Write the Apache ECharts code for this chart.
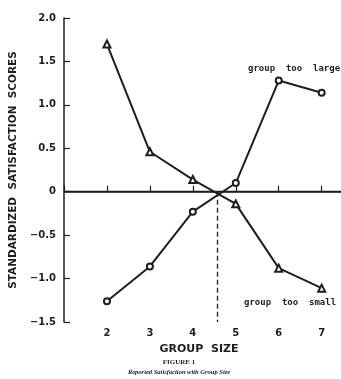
<!DOCTYPE html>
<html><head><meta charset="utf-8">
<script src="https://cdn.jsdelivr.net/npm/echarts@6/dist/echarts.min.js"></script>
<style>html,body{margin:0;padding:0;background:#fff}#c{width:341px;height:379px}</style>
</head><body><div id="c"></div>
<script>
const groupSizes = [2, 3, 4, 5, 6, 7];
const tooSmall = [1.70, 0.46, 0.14, -0.14, -0.88, -1.11];
const tooLarge = [-1.26, -0.86, -0.23, 0.10, 1.28, 1.14];
const crossX = 4.57;
const yTicks = [-1.5, -1.0, -0.5, 0, 0.5, 1.0, 1.5, 2.0];
const xTickLabels = ['2', '3', '4', '5', '6', '7'];

const ink = '#1e1e1e';
const chart = echarts.init(document.getElementById('c'), null, {renderer: 'canvas'});
const toPairs = (xs, ys) => xs.map((x, i) => [x, ys[i]]);
chart.setOption({
  animation: false,
  backgroundColor: '#fff',
  grid: {left: 61, top: 18, right: 0, bottom: 57, containLabel: false},
  xAxis: {
    type: 'value', min: 1, max: 7.45, interval: 1,
    axisLine: {show: true, lineStyle: {color: ink, width: 1.5}},
    axisTick: {show: true, inside: true, length: 6, lineStyle: {color: ink, width: 1.2}},
    splitLine: {show: false},
    axisLabel: {
      margin: 6, color: ink, fontFamily: 'DejaVu Sans', fontWeight: 'bold', fontSize: 10,
      showMaxLabel: false,
      formatter: v => xTickLabels.includes(String(v)) ? String(v) : ''
    }
  },
  yAxis: {
    type: 'value', min: -1.5, max: 2.0, interval: 0.5,
    name: 'STANDARDIZED  SATISFACTION  SCORES',
    nameLocation: 'middle', nameGap: 44, nameRotate: 90,
    nameTextStyle: {color: ink, fontFamily: 'DejaVu Sans', fontWeight: 'bold', fontSize: 10.5},
    axisLine: {show: true, lineStyle: {color: ink, width: 1.5}},
    axisTick: {show: true, inside: true, length: 6, lineStyle: {color: ink, width: 1.2}},
    splitLine: {show: false},
    axisLabel: {
      margin: 8, color: ink, fontFamily: 'DejaVu Sans', fontWeight: 'bold', fontSize: 10,
      formatter: v => {
        const t = yTicks.find(y => Math.abs(y - v) < 1e-9);
        if (t === undefined) return '';
        if (t === 0) return '0';
        return (t < 0 ? '\u2212' : '') + Math.abs(t).toFixed(1);
      }
    }
  },
  series: [
    {
      name: 'group too small', type: 'line',
      data: toPairs(groupSizes, tooSmall),
      symbol: 'emptyTriangle', symbolSize: 7,
      lineStyle: {color: ink, width: 2}, itemStyle: {color: ink, borderWidth: 1.2},
      markLine: {
        silent: true, symbol: ['none', 'none'], label: {show: false},
        data: [[{coord: [1, 0]}, {coord: [7.45, 0]}]],
        lineStyle: {color: ink, width: 1.3, type: 'solid'}
      }
    },
    {
      name: 'group too large', type: 'line',
      data: toPairs(groupSizes, tooLarge),
      symbol: 'emptyCircle', symbolSize: 6,
      lineStyle: {color: ink, width: 2}, itemStyle: {color: ink, borderWidth: 1.2},
      markLine: {
        silent: true, symbol: ['none', 'none'], label: {show: false},
        data: [[{coord: [crossX, 0]}, {coord: [crossX, -1.5]}]],
        lineStyle: {color: ink, width: 1.3, type: [5, 3]}
      }
    }
  ],
  graphic: [
    {type: 'text', left: 248, top: 64, style: {text: 'group  too  large', fill: ink, font: 'bold 9px "DejaVu Sans Mono"'}},
    {type: 'text', left: 244, top: 298, style: {text: 'group  too  small', fill: ink, font: 'bold 9px "DejaVu Sans Mono"'}},
    {type: 'text', x: 199, y: 349, style: {text: 'GROUP  SIZE', fill: ink, font: 'bold 11px "DejaVu Sans"', align: 'center', verticalAlign: 'middle'}},
    {type: 'text', x: 179, y: 362, style: {text: 'FIGURE 1', fill: ink, font: 'bold 7px "Liberation Serif"', align: 'center', verticalAlign: 'middle'}},
    {type: 'text', x: 179, y: 372, style: {text: 'Reported Satisfaction with Group Size', fill: ink, font: 'italic bold 6.5px "Liberation Serif"', align: 'center', verticalAlign: 'middle'}}
  ]
});
</script>
</body></html>
